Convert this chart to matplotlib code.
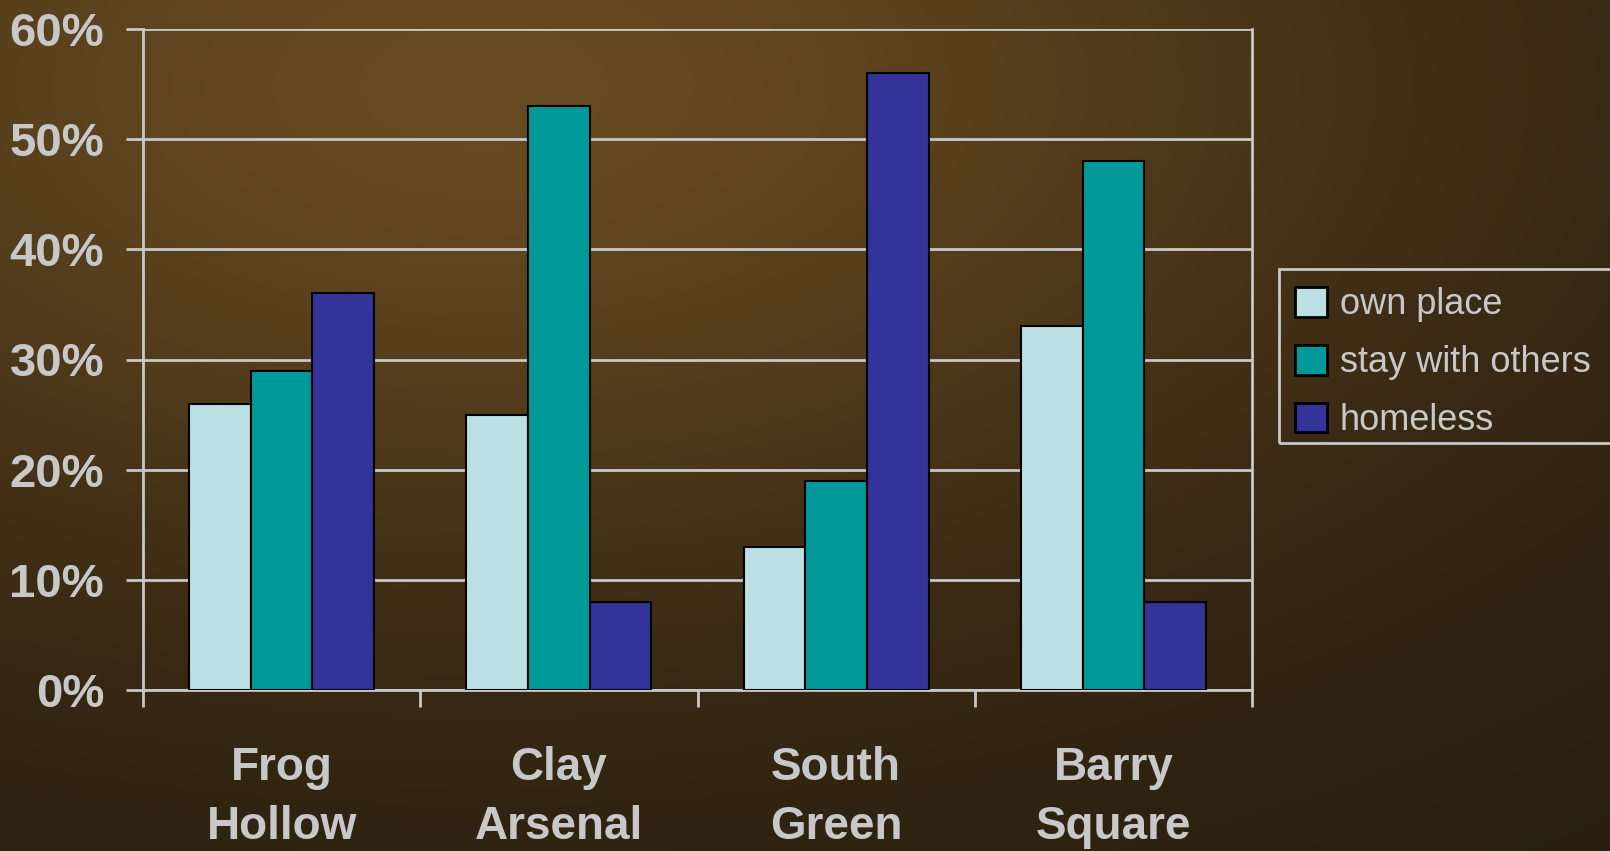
import matplotlib.pyplot as plt
import numpy as np
from matplotlib.patches import Patch, Rectangle

categories = ["Frog\nHollow", "Clay\nArsenal", "South\nGreen", "Barry\nSquare"]
series_names = ["own place", "stay with others", "homeless"]
own_place = [26, 25, 13, 33]
stay_with_others = [29, 53, 19, 48]
homeless = [36, 8, 56, 8]
yticks = [0, 10, 20, 30, 40, 50, 60]

colors = ['#BBE0E3', '#009999', '#333399']
txt = '#c8c8c8'

fig = plt.figure(figsize=(16.1, 8.51), dpi=100)

# brown leather-ish backdrop
bg = fig.add_axes([0, 0, 1, 1], zorder=-10)
yy, xx = np.mgrid[0:1:300j, 0:1:560j]
glow = np.exp(-(((xx - 0.3) / 0.6) ** 2 + ((yy - 0.1) / 0.6) ** 2))
c_dark = np.array([0.16, 0.12, 0.06])
c_light = np.array([0.40, 0.29, 0.13])
img = c_dark + (c_light - c_dark) * glow[..., None]
bg.imshow(img, aspect='auto', extent=[0, 1, 1, 0], interpolation='bilinear')
bg.set_axis_off()

ax = fig.add_axes([143/1610, 1 - 690/851, (1252 - 143)/1610, (690 - 29)/851])
ax.patch.set_alpha(0)

x = np.arange(len(categories))
w = 2/9
for i, (vals, name) in enumerate(zip([own_place, stay_with_others, homeless], series_names)):
    ax.bar(x + (i - 1) * w, vals, w, color=colors[i], edgecolor='black', linewidth=1.5,
           label=name, zorder=3)

ax.set_xlim(-0.5, 3.5)
ax.set_ylim(0, 60)
ax.set_yticks(yticks)
ax.set_yticklabels([f"{v}%" for v in yticks])
ax.yaxis.grid(True, color=txt, linewidth=2, zorder=0)
ax.set_xticks(np.arange(-0.5, 4, 1))
ax.set_xticklabels([])
ax.set_xticks(x, minor=True)
ax.set_xticklabels(categories, minor=True, fontsize=33, fontweight='bold', color=txt,
                   family='Liberation Sans', linespacing=1.45)
ax.tick_params(axis='x', which='major', length=12, width=2, color=txt, direction='out')
ax.tick_params(axis='x', which='minor', length=0, pad=40)
ax.tick_params(axis='y', length=12, width=2, color=txt, pad=16)
for lab in ax.get_yticklabels():
    lab.set_fontsize(34)
    lab.set_fontweight('bold')
    lab.set_color(txt)
    lab.set_family('Liberation Sans')

for side in ['left', 'right', 'bottom']:
    ax.spines[side].set_color(txt)
    ax.spines[side].set_linewidth(2)
ax.spines['top'].set_visible(False)

# legend box runs off the right edge, like the original slide
fig.patches.append(Rectangle((1279/1610, 1 - 443/851), 400/1610, (443 - 269)/851,
                             transform=fig.transFigure, facecolor='none',
                             edgecolor=txt, linewidth=2))
handles = [Patch(facecolor=c, edgecolor='black', linewidth=2) for c in colors]
leg = fig.legend(handles, series_names, loc='upper left',
                 bbox_to_anchor=(1284/1610, 1 - 276/851),
                 prop={'family': 'Liberation Sans', 'size': 26},
                 frameon=False, handlelength=0.9, handleheight=0.9,
                 handletextpad=0.35, labelspacing=0.62, borderpad=0.3, borderaxespad=0)
for t in leg.get_texts():
    t.set_color(txt)

fig.savefig('out.png', dpi=100)
